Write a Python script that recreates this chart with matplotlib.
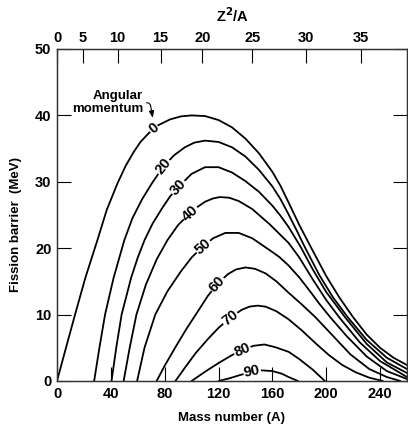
import matplotlib
matplotlib.use("Agg")
import matplotlib.pyplot as plt
import numpy as np

plt.rcParams['font.family'] = ['Liberation Sans', 'DejaVu Sans']
plt.rcParams['font.weight'] = 'bold'

# ---- data ----
momenta = [0, 20, 30, 40, 50, 60, 70, 80, 90]

A_L0 = [0, 6, 13.4, 21, 30, 37, 45, 51, 57, 62, 68, 75, 84, 92, 100, 110, 120, 130, 140, 150, 160, 166, 172, 180, 189, 200, 210, 220, 230, 240, 250, 260]
E_L0 = [0, 4.5, 10, 15.5, 21.2, 25.8, 29.8, 32.4, 34.5, 36, 37.3, 38.5, 39.4, 39.85, 40, 39.9, 39.3, 38.2, 36.5, 34.3, 31.5, 29.4, 26.9, 23.5, 20, 15.8, 12.5, 9.6, 7, 5, 3.5, 2.4]

A_L20 = [27.6, 31.5, 35.7, 42, 50, 56, 63, 70.6, 79, 87, 95, 102, 110, 120, 130, 140, 150, 160, 166, 172, 178, 184, 195, 205, 216, 230, 245, 260]
E_L20 = [0, 5, 10, 15.5, 21.2, 24.5, 27.3, 29.8, 32.3, 34, 35.2, 35.9, 36.2, 36, 35.2, 33.8, 31.8, 29.3, 27.4, 25.1, 22.7, 20.2, 15.9, 12.6, 9.6, 6.2, 3.5, 1.8]

A_L30 = [40.5, 44, 48, 55, 60, 65, 71, 78, 84, 90, 100, 110, 120, 130, 140, 150, 160, 166, 172, 181, 190, 200, 214, 230, 245, 260]
E_L30 = [0, 5, 10, 15.5, 18.6, 21.2, 23.7, 26, 27.8, 29.2, 31.2, 32.2, 32.2, 31.4, 30.1, 28.5, 26.4, 24.9, 23.2, 20.2, 16.8, 13.4, 9.6, 5.6, 2.8, 1.2]

A_L40 = [49.5, 54, 59, 66, 74, 82, 90, 99, 105, 110, 116, 121, 128, 135, 145, 158, 166, 172, 180, 190, 200, 210, 225, 240, 260]
E_L40 = [0, 5, 10, 14.5, 18.3, 21.2, 23.5, 25.3, 26.3, 27, 27.5, 27.7, 27.6, 27.1, 25.9, 23.6, 22, 20.8, 18.6, 15.3, 12.2, 9.5, 5.8, 3.0, 0.6]

A_L50 = [59.5, 65, 73, 82, 92, 100, 108, 116, 125, 135, 145, 158, 165, 172, 180, 188, 195, 203, 215, 230, 245, 260]
E_L50 = [0, 5, 10, 13.5, 16.5, 18.6, 20.2, 21.5, 22.3, 22.3, 21.5, 19.7, 18.7, 17.4, 15.6, 13.5, 11.6, 9.6, 6.8, 3.7, 1.5, 0.3]

A_L60 = [74, 80, 88, 96, 105, 112, 119, 127, 133, 140, 147, 155, 163, 172, 182, 192, 205, 218, 232, 245, 255]
E_L60 = [0, 2.3, 5.1, 7.8, 10.6, 12.8, 14.6, 16.1, 16.8, 17.1, 16.9, 16.2, 15, 13.3, 11.5, 9.6, 6.8, 4, 1.8, 0.6, 0]

A_L70 = [88, 95, 103, 112, 120, 128.5, 137, 143, 149, 155, 163, 172, 182, 192, 202, 212, 222, 232, 242]
E_L70 = [0, 2, 4.2, 6.3, 8, 9.5, 10.7, 11.2, 11.35, 11.2, 10.5, 9.3, 7.6, 5.7, 3.9, 2.4, 1.3, 0.5, 0]

A_L80 = [100, 110, 120, 130, 137.5, 146, 154, 162, 172, 180, 190, 199]
E_L80 = [0, 1.4, 2.7, 3.9, 4.7, 5.3, 5.5, 5.1, 4.4, 3.3, 1.7, 0]

A_L90 = [120, 128, 136, 145, 152, 160, 167, 172, 179]
E_L90 = [0, 0.4, 0.9, 1.4, 1.6, 1.5, 1.1, 0.6, 0]

curves_A = [A_L0, A_L20, A_L30, A_L40, A_L50, A_L60, A_L70, A_L80, A_L90]
curves_E = [E_L0, E_L20, E_L30, E_L40, E_L50, E_L60, E_L70, E_L80, E_L90]

# label positions along each curve (mass number)
label_A = [72, 79, 90, 99, 108.5, 119, 128.5, 137.5, 145]

bottom_ticks = [0, 40, 80, 120, 160, 200, 240]
left_ticks = [0, 10, 20, 30, 40, 50]
z2a_labels = [0, 5, 10, 15, 20, 25, 30, 35]
z2a_pos_A = [0, 19, 45, 77, 108, 145, 185, 226]

# ---- figure ----
fig = plt.figure(figsize=(4.08, 4.26), dpi=100)
ax = fig.add_axes([57/408, 45/426, 350/408, 332/426])

for A, E in zip(curves_A, curves_E):
    ax.plot(A, E, color='black', lw=1.3, solid_capstyle='round',
            solid_joinstyle='round', zorder=2)

ax.set_xlim(0, 260)
ax.set_ylim(0, 50)

fig.canvas.draw()
for L, A, E, la in zip(momenta, curves_A, curves_E, label_A):
    A = np.asarray(A, float); E = np.asarray(E, float)
    e = np.interp(la, A, E)
    p0 = ax.transData.transform((la - 3, np.interp(la - 3, A, E)))
    p1 = ax.transData.transform((la + 3, np.interp(la + 3, A, E)))
    ang = np.degrees(np.arctan2(p1[1] - p0[1], p1[0] - p0[0]))
    ax.text(la, e, str(L), rotation=ang, rotation_mode='anchor',
            ha='center', va='center', fontsize=10.5, fontweight='bold',
            bbox=dict(facecolor='white', edgecolor='none', pad=0.5), zorder=3)

ax.text(64, 41.9, 'Angular\nmomentum', ha='right', va='center', fontsize=9.5,
        fontweight='bold', linespacing=1.1)
ax.annotate('', xy=(71.5, 39.2), xytext=(64.5, 41.9),
            arrowprops=dict(arrowstyle='-|>,head_length=0.4,head_width=0.15',
                            color='black', lw=0.8,
                            connectionstyle='angle,angleA=0,angleB=-80,rad=3'))

ax.set_xticks(bottom_ticks)
ax.set_yticks(left_ticks)
ax.tick_params(axis='both', direction='in', length=10, width=0.8,
               labelsize=10.5, pad=4, right=True)
for lab in ax.get_xticklabels() + ax.get_yticklabels():
    lab.set_fontweight('bold')
ax.set_xlabel('Mass number (A)', fontsize=9.5, fontweight='bold', labelpad=8)
ax.set_ylabel('Fission barrier  (MeV)', fontsize=9.5, fontweight='bold')
ax.yaxis.set_label_coords(-0.10, 0.47)

ax2 = ax.twiny()
ax2.set_xlim(ax.get_xlim())
ax2.set_xticks(z2a_pos_A)
ax2.set_xticklabels([str(v) for v in z2a_labels], fontweight='bold')
ax2.tick_params(axis='x', direction='in', length=10, width=0.8, labelsize=10.5, pad=3)
ax2.set_xlabel('Z$^{\\mathbf{2}}$/A', fontsize=10.5, fontweight='bold', labelpad=6)

for a in (ax, ax2):
    for s in a.spines.values():
        s.set_linewidth(0.9)
        s.set_color('#333333')

fig.savefig('out.png', dpi=100)
